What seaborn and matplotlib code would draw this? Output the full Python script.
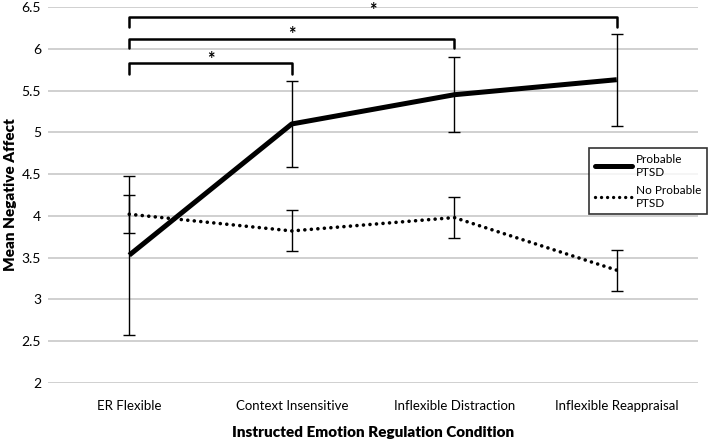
import matplotlib
matplotlib.use("Agg")
import matplotlib.pyplot as plt
import seaborn as sns
import pandas as pd
from matplotlib.lines import Line2D

conditions = ["ER Flexible", "Context Insensitive", "Inflexible Distraction", "Inflexible Reappraisal"]
ptsd_mean = [3.53, 5.10, 5.45, 5.63]
ptsd_err = [0.95, 0.51, 0.45, 0.55]
noptsd_mean = [4.02, 3.82, 3.98, 3.35]
noptsd_err = [0.23, 0.245, 0.25, 0.245]
groups = ["Probable\nPTSD", "No Probable\nPTSD"]
y_ticks = [2, 2.5, 3, 3.5, 4, 4.5, 5, 5.5, 6, 6.5]

df = pd.DataFrame({
    "cond": conditions * 2,
    "mean": ptsd_mean + noptsd_mean,
    "group": [groups[0]] * 4 + [groups[1]] * 4,
})

sns.set_theme(style="white")
plt.rcParams["font.family"] = ["Lato", "DejaVu Sans"]
plt.rcParams["text.color"] = "black"
plt.rcParams["axes.labelcolor"] = "black"
plt.rcParams["xtick.color"] = "black"
plt.rcParams["ytick.color"] = "black"

fig = plt.figure(figsize=(7.08, 4.41), dpi=100)
ax = fig.add_axes([48/708, 1-383/441, 650/708, 376/441])
ax.set_axisbelow(True)
ax.yaxis.grid(True, color="#c8c8c8", lw=1.2)

dotted = (0, (0.01, 1.8))
sns.lineplot(data=df, x="cond", y="mean", hue="group", style="group",
             palette=["black", "black"], dashes=False, legend=False, ax=ax, sort=False)
lines = ax.get_lines()
lines[0].set_linewidth(3.6)
lines[0].set_solid_capstyle("butt")
lines[1].set_linewidth(2.6)
lines[1].set_linestyle(dotted)
lines[1].set_dash_capstyle("round")

ax.errorbar(conditions, ptsd_mean, yerr=ptsd_err, fmt="none", ecolor="black",
            elinewidth=1, capsize=4, capthick=1, zorder=3)
ax.errorbar(conditions, noptsd_mean, yerr=noptsd_err, fmt="none", ecolor="black",
            elinewidth=1, capsize=4, capthick=1, zorder=3)

# significance brackets
brackets = [(0, 1, 5.83, 5.70, 5.97), (0, 2, 6.12, 6.01, 6.27), (0, 3, 6.38, 6.26, 6.56)]
for x0, x1, ytop, yleg, ystar in brackets:
    ax.plot([x0, x0, x1, x1], [yleg, ytop, ytop, yleg], color="black", lw=1.8,
            solid_joinstyle="round", clip_on=False)
    ax.text((x0 + x1) / 2, ystar, "*", ha="center", va="top", fontsize=13,
            fontweight="bold", clip_on=False)

ax.set_xlim(-0.5, 3.5)
ax.set_ylim(2, 6.5)
ax.set_yticks(y_ticks)
ax.set_yticklabels([f"{t:g}" for t in y_ticks], fontsize=10)
ax.tick_params(axis="x", labelsize=9.5, pad=12, length=0, labelcolor="black")
ax.tick_params(axis="y", length=0, pad=5, labelcolor="black")
for s in ax.spines.values():
    s.set_visible(False)
ax.set_xlabel("Instructed Emotion Regulation Condition", fontsize=11, fontweight="heavy", labelpad=10)
ax.set_ylabel("Mean Negative Affect", fontsize=11, fontweight="heavy", labelpad=3)

handles = [Line2D([], [], color="black", lw=3.6),
           Line2D([], [], color="black", lw=2.4, linestyle=dotted, dash_capstyle="round")]
leg = ax.legend(handles, groups, loc="upper left", bbox_to_anchor=(0.832, 0.625),
                borderaxespad=0, fontsize=8.5, frameon=True, fancybox=False,
                edgecolor="black", handlelength=3.2, handletextpad=0.3,
                labelspacing=0.6, borderpad=0.5, labelcolor="black")
leg.get_frame().set_linewidth(1.2)

fig.savefig("out.png", dpi=100)
